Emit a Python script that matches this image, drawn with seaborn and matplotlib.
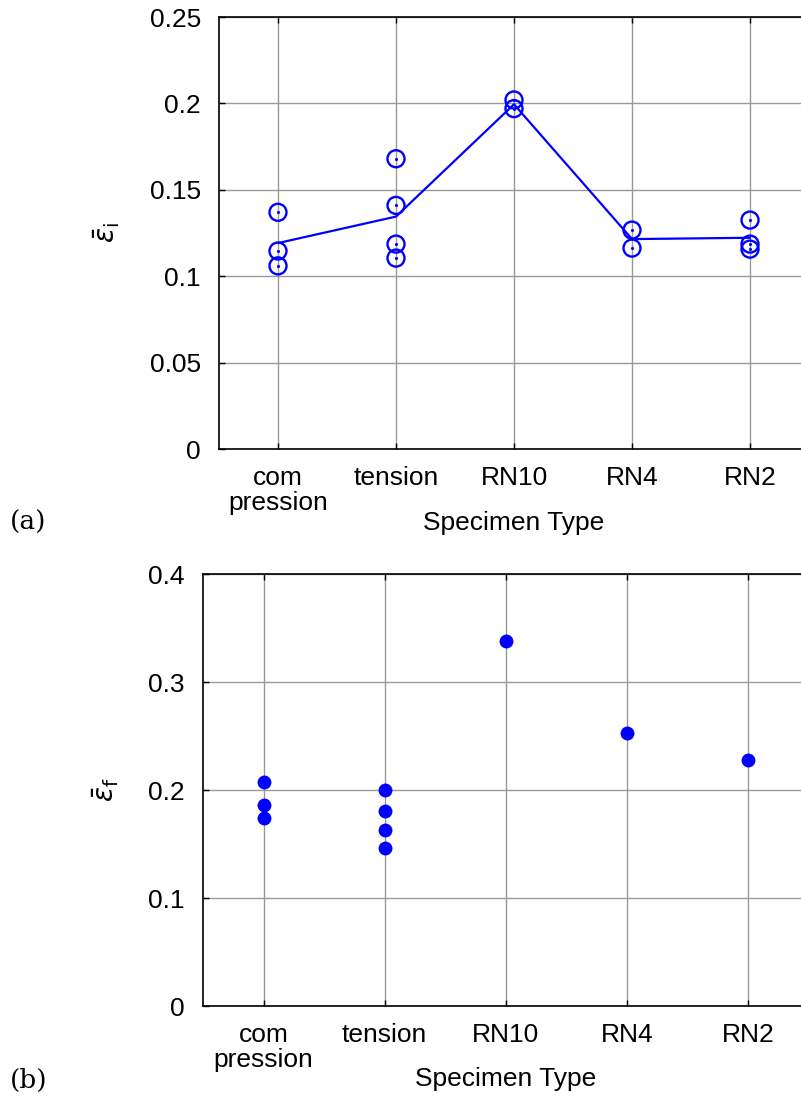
import numpy as np
import pandas as pd
import matplotlib
matplotlib.use("Agg")
import matplotlib.pyplot as plt
import seaborn as sns

categories = ["com\npression", "tension", "RN10", "RN4", "RN2"]

# (a) initiation strain
a_cat = ["com\npression"] * 3 + ["tension"] * 4 + ["RN10"] * 2 + ["RN4"] * 2 + ["RN2"] * 3
a_val = [0.137, 0.1146, 0.106,
         0.168, 0.141, 0.1186, 0.1105,
         0.202, 0.197,
         0.1267, 0.1163,
         0.1325, 0.1186, 0.1157]

# (b) fracture strain
b_cat = ["com\npression"] * 3 + ["tension"] * 4 + ["RN10", "RN4", "RN2"]
b_val = [0.2074, 0.186, 0.174,
         0.1997, 0.1805, 0.163, 0.146,
         0.338, 0.2528, 0.2278]

a_ticks = [0, 0.05, 0.1, 0.15, 0.2, 0.25]
a_ticklabels = ["0", "0.05", "0.1", "0.15", "0.2", "0.25"]
b_ticks = [0, 0.1, 0.2, 0.3, 0.4]
b_ticklabels = ["0", "0.1", "0.2", "0.3", "0.4"]

sns.set_theme(style="white")
plt.rcParams["font.family"] = ["Liberation Sans", "DejaVu Sans"]
plt.rcParams["mathtext.fontset"] = "dejavusans"
plt.rcParams["text.color"] = "black"
plt.rcParams["axes.labelcolor"] = "black"
plt.rcParams["xtick.color"] = "black"
plt.rcParams["ytick.color"] = "black"

fig = plt.figure(figsize=(8.01, 10.99), dpi=100)

dfa = pd.DataFrame({"cat": a_cat, "val": a_val})
dfa["x"] = dfa["cat"].map({c: i for i, c in enumerate(categories)})
dfb = pd.DataFrame({"cat": b_cat, "val": b_val})
dfb["x"] = dfb["cat"].map({c: i for i, c in enumerate(categories)})

blue = "#0000ff"
grid_kw = dict(color="#999999", linewidth=1.0)
FS = 19

def style(ax, ticks, ticklabels, ylim, ylabel):
    ax.set_xlim(-0.5, 4.5)
    ax.set_ylim(*ylim)
    ax.set_xticks(range(len(categories)))
    ax.set_xticklabels(categories, fontsize=FS, linespacing=1.05)
    ax.set_yticks(ticks)
    ax.set_yticklabels(ticklabels, fontsize=FS)
    ax.grid(True, **grid_kw)
    ax.set_axisbelow(True)
    ax.tick_params(direction="in", length=4, width=1, color="black",
                   top=True, right=True, bottom=True, left=True)
    ax.tick_params(axis="x", pad=12)
    ax.tick_params(axis="y", pad=13)
    for s in ax.spines.values():
        s.set_color("black")
        s.set_linewidth(1.2)
    ax.set_xlabel("Specimen Type", fontsize=FS, labelpad=-3)
    ax.set_ylabel(ylabel, fontsize=20, labelpad=20)

# (a)
ax1 = fig.add_axes([0.2734, 0.5914, 0.7366, 0.3931])
sns.lineplot(data=dfa, x="x", y="val", estimator="mean", errorbar=None,
             color=blue, linewidth=1.6, ax=ax1)
sns.scatterplot(data=dfa, x="x", y="val", marker="o", s=150,
                facecolor="none", edgecolor=blue, linewidth=1.7, ax=ax1, zorder=3)
sns.scatterplot(data=dfa, x="x", y="val", marker="o", s=5,
                color=blue, edgecolor=blue, linewidth=0, ax=ax1, zorder=4)
style(ax1, a_ticks, a_ticklabels, (0, 0.25), r"$\bar{\varepsilon}_{\mathrm{i}}$")

# (b)
ax2 = fig.add_axes([0.2534, 0.0846, 0.756, 0.3931])
sns.scatterplot(data=dfb, x="x", y="val", marker="o", s=100,
                color=blue, edgecolor=blue, linewidth=0, ax=ax2, zorder=3)
style(ax2, b_ticks, b_ticklabels, (0, 0.4), r"$\bar{\varepsilon}_{\mathrm{f}}$")

fig.text(10 / 801, 1 - 522 / 1099, "(a)", fontsize=19, family=["DejaVu Serif"], va="center")
fig.text(10 / 801, 1 - 1080 / 1099, "(b)", fontsize=19, family=["DejaVu Serif"], va="center")

fig.savefig("out.png", dpi=100)
